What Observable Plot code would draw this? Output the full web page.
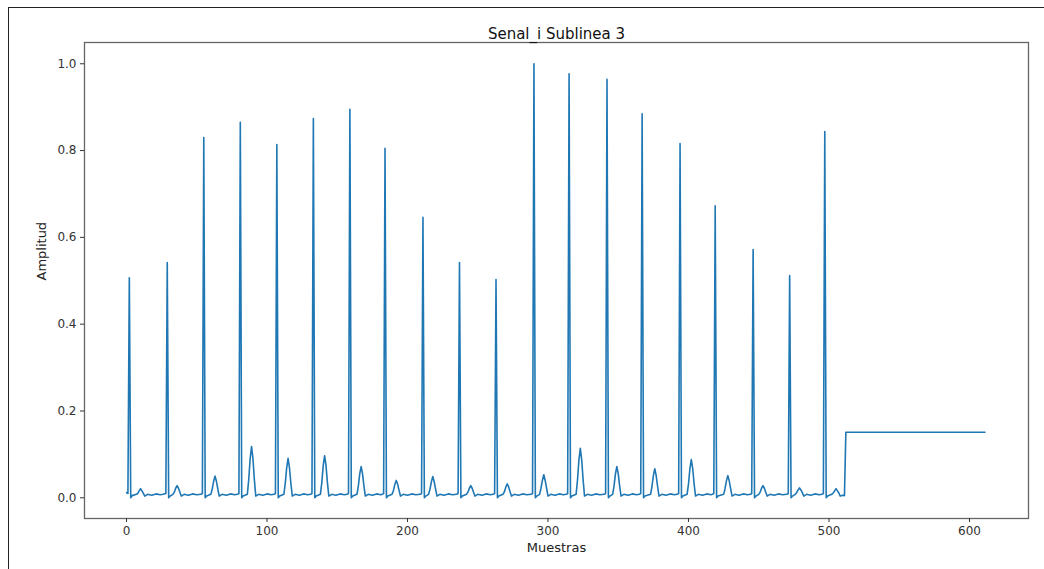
<!DOCTYPE html>
<html>
<head>
<meta charset="utf-8">
<script src="https://cdn.jsdelivr.net/npm/d3@7"></script>
<script src="https://cdn.jsdelivr.net/npm/@observablehq/plot@0.6"></script>
<style>
  html, body { margin: 0; padding: 0; background: #fff; }
  #wrap { position: relative; width: 1044px; height: 569px; overflow: hidden; }
  #border { position: absolute; left: 8px; top: 7px; width: 1100px; height: 700px;
            border-left: 1px solid #222; border-top: 1px solid #222; pointer-events: none; }
  #chart { position: absolute; left: 0; top: 0; }
</style>
</head>
<body>
<div id="wrap"><div id="chart"></div><div id="border"></div></div>
<script>
const title = "Senal_i Sublinea 3";
const xLabel = "Muestras";
const yLabel = "Amplitud";
const xTicks = [0, 100, 200, 300, 400, 500, 600];
const yTicks = [0.0, 0.2, 0.4, 0.6, 0.8, 1.0];

// Sample index / amplitude knots, one beat per line
const samples = [
  0, 1, 2, 3, 4, 7, 8, 9, 10, 11, 12, 13, 15, 18, 21, 24, 26,
  28, 29, 30, 31, 33, 34, 35, 36, 37, 38, 39, 41, 44, 47, 50, 53,
  54, 55, 56, 57, 60, 61, 62, 63, 64, 65, 66, 68, 71, 74, 77, 79,
  80, 81, 82, 83, 86, 87, 88, 89, 90, 91, 92, 94, 97, 100, 103, 105,
  106, 107, 108, 109, 112, 113, 114, 115, 116, 117, 118, 120, 123, 126, 129, 131,
  132, 133, 134, 135, 138, 139, 140, 141, 142, 143, 144, 146, 149, 152, 155, 157,
  158, 159, 160, 161, 164, 165, 166, 167, 168, 169, 170, 172, 175, 178, 181, 182,
  183, 184, 185, 186, 189, 190, 191, 192, 193, 194, 195, 197, 200, 203, 206, 209,
  210, 211, 212, 213, 215, 216, 217, 218, 219, 220, 221, 223, 226, 229, 232, 235,
  236, 237, 238, 239, 242, 243, 244, 245, 246, 247, 248, 250, 253, 256, 259, 261,
  262, 263, 264, 265, 268, 269, 270, 271, 272, 273, 274, 276, 279, 282, 285, 288,
  289, 290, 291, 292, 294, 295, 296, 297, 298, 299, 300, 302, 305, 308, 311, 313,
  314, 315, 316, 317, 320, 321, 322, 323, 324, 325, 326, 328, 331, 334, 337, 340,
  341, 342, 343, 344, 346, 347, 348, 349, 350, 351, 352, 354, 357, 360, 363, 365,
  366, 367, 368, 369, 373, 374, 375, 376, 377, 378, 379, 381, 384, 387, 390, 392,
  393, 394, 395, 396, 399, 400, 401, 402, 403, 404, 405, 407, 410, 413, 416, 417,
  418, 419, 420, 421, 425, 426, 427, 428, 429, 430, 431, 433, 436, 439, 442, 444,
  445, 446, 447, 448, 450, 451, 452, 453, 454, 455, 456, 458, 461, 464, 467, 470,
  471, 472, 473, 474, 476, 477, 478, 479, 480, 481, 482, 484, 487, 490, 493, 495,
  496, 497, 498, 499, 502, 503, 504, 505, 506, 507, 508, 510, 511,
  512, 611
];
const amplitude = [
  0.012, 0.010, 0.507, 0.000, 0.005, 0.008, 0.010, 0.016, 0.021, 0.016, 0.010, 0.004, 0.008, 0.006, 0.009, 0.007, 0.008,
  0.010, 0.542, 0.000, 0.004, 0.008, 0.013, 0.022, 0.028, 0.022, 0.013, 0.004, 0.008, 0.006, 0.009, 0.007, 0.008,
  0.010, 0.830, 0.000, 0.004, 0.008, 0.020, 0.038, 0.050, 0.038, 0.020, 0.004, 0.008, 0.006, 0.009, 0.007, 0.008,
  0.010, 0.865, 0.000, 0.004, 0.008, 0.042, 0.090, 0.118, 0.090, 0.042, 0.004, 0.008, 0.006, 0.009, 0.007, 0.008,
  0.010, 0.814, 0.000, 0.004, 0.008, 0.033, 0.069, 0.091, 0.069, 0.033, 0.004, 0.008, 0.006, 0.009, 0.007, 0.008,
  0.010, 0.874, 0.000, 0.004, 0.008, 0.035, 0.074, 0.097, 0.074, 0.035, 0.004, 0.008, 0.006, 0.009, 0.007, 0.008,
  0.010, 0.895, 0.000, 0.004, 0.008, 0.027, 0.055, 0.072, 0.055, 0.027, 0.004, 0.008, 0.006, 0.009, 0.007, 0.008,
  0.010, 0.805, 0.000, 0.004, 0.008, 0.017, 0.031, 0.040, 0.031, 0.017, 0.004, 0.008, 0.006, 0.009, 0.007, 0.008,
  0.010, 0.646, 0.000, 0.004, 0.008, 0.020, 0.037, 0.049, 0.037, 0.020, 0.004, 0.008, 0.006, 0.009, 0.007, 0.008,
  0.010, 0.542, 0.000, 0.004, 0.008, 0.013, 0.022, 0.028, 0.022, 0.013, 0.004, 0.008, 0.006, 0.009, 0.007, 0.008,
  0.010, 0.503, 0.000, 0.004, 0.008, 0.014, 0.025, 0.032, 0.025, 0.014, 0.004, 0.008, 0.006, 0.009, 0.007, 0.008,
  0.010, 1.000, 0.000, 0.004, 0.008, 0.022, 0.040, 0.053, 0.040, 0.022, 0.004, 0.008, 0.006, 0.009, 0.007, 0.008,
  0.010, 0.977, 0.000, 0.004, 0.008, 0.041, 0.087, 0.114, 0.087, 0.041, 0.004, 0.008, 0.006, 0.009, 0.007, 0.008,
  0.010, 0.964, 0.000, 0.004, 0.008, 0.027, 0.055, 0.072, 0.055, 0.027, 0.004, 0.008, 0.006, 0.009, 0.007, 0.008,
  0.010, 0.885, 0.000, 0.004, 0.008, 0.026, 0.051, 0.067, 0.051, 0.026, 0.004, 0.008, 0.006, 0.009, 0.007, 0.008,
  0.010, 0.816, 0.000, 0.004, 0.008, 0.032, 0.067, 0.088, 0.067, 0.032, 0.004, 0.008, 0.006, 0.009, 0.007, 0.008,
  0.010, 0.673, 0.000, 0.004, 0.008, 0.021, 0.039, 0.051, 0.039, 0.021, 0.004, 0.008, 0.006, 0.009, 0.007, 0.008,
  0.010, 0.572, 0.000, 0.004, 0.008, 0.013, 0.022, 0.028, 0.022, 0.013, 0.004, 0.008, 0.006, 0.009, 0.007, 0.008,
  0.010, 0.512, 0.000, 0.004, 0.008, 0.012, 0.018, 0.023, 0.018, 0.012, 0.004, 0.008, 0.006, 0.009, 0.007, 0.008,
  0.010, 0.844, 0.000, 0.004, 0.008, 0.011, 0.016, 0.021, 0.016, 0.011, 0.004, 0.006, 0.005,
  0.151, 0.151
];

const data = samples.map((s, i) => ({x: s, y: amplitude[i]}));
const font = "DejaVu Sans, sans-serif";

const chart = Plot.plot({
  width: 1044,
  height: 569,
  marginLeft: 84,
  marginRight: 16,
  marginTop: 42,
  marginBottom: 51,
  style: {fontFamily: font, fontSize: "12px", color: "#333", background: "transparent"},
  x: {domain: [-29.9, 642], label: null},
  y: {domain: [-0.0477, 1.049], label: null},
  marks: [
    Plot.line(data, {x: "x", y: "y", stroke: "#1f77b4", strokeWidth: 1.6}),
    Plot.frame({stroke: "#666", strokeWidth: 1.3}),
    Plot.axisX({ticks: xTicks, tickFormat: d => String(d), tickSize: 4, tickPadding: 4, label: null, fontSize: 12}),
    Plot.axisY({ticks: yTicks, tickFormat: d3.format(".1f"), tickSize: 4, tickPadding: 4, label: null, fontSize: 12}),
    Plot.text([title], {text: d => d, frameAnchor: "top", dy: -14, fontSize: 15, fill: "#111"}),
    Plot.text([xLabel], {text: d => d, frameAnchor: "bottom", dy: 33, fontSize: 13, fill: "#222"}),
    Plot.text([yLabel], {text: d => d, frameAnchor: "left", dx: -43, rotate: -90, fontSize: 13, fill: "#222"})
  ]
});
document.getElementById("chart").appendChild(chart);
</script>
</body>
</html>
